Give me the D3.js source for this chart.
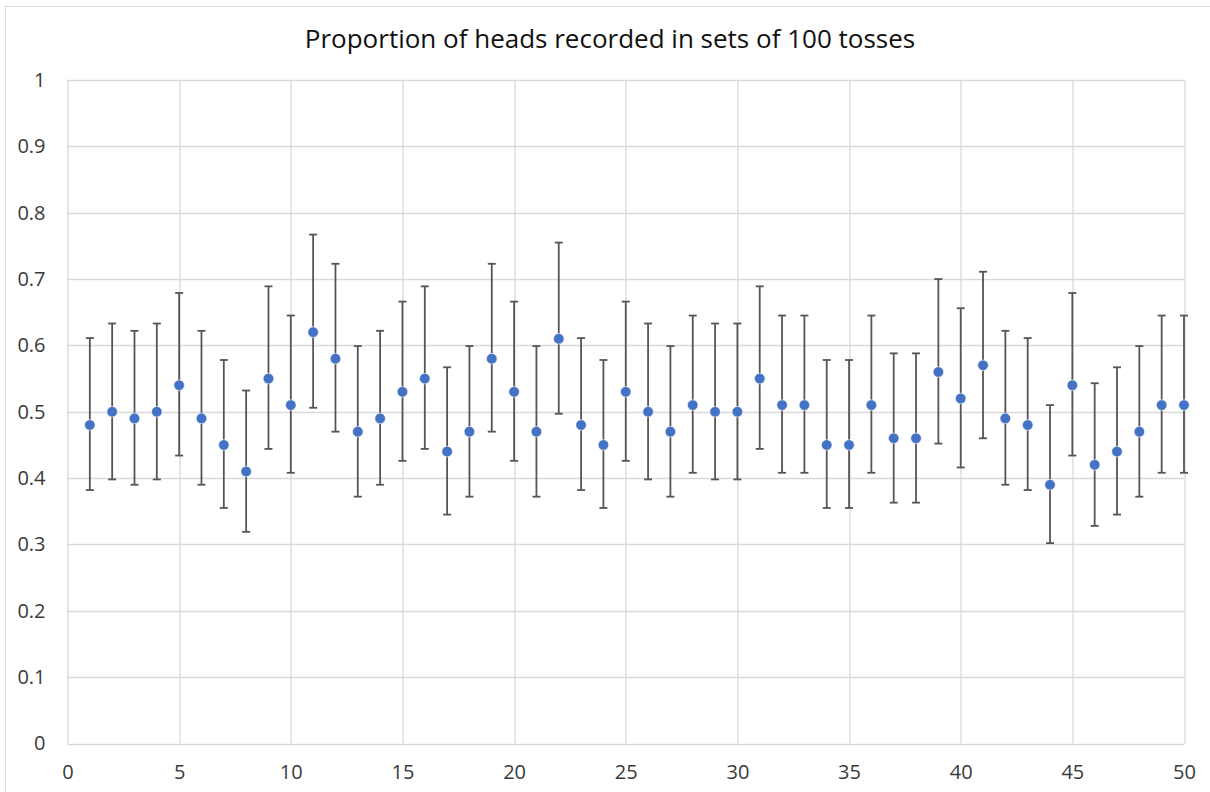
<!DOCTYPE html>
<html>
<head>
<meta charset="utf-8">
<script src="https://cdn.jsdelivr.net/npm/d3@7"></script>
<style>
  body { margin: 0; background: #fff; }
  svg { display: block; }
</style>
</head>
<body>
<div id="chart"></div>
<script>
// set number (1..50) and proportion of heads in each set
const sets = d3.range(1, 51);
const proportion = [
  0.48, 0.50, 0.49, 0.50, 0.54, 0.49, 0.45, 0.41, 0.55, 0.51,
  0.62, 0.58, 0.47, 0.49, 0.53, 0.55, 0.44, 0.47, 0.58, 0.53,
  0.47, 0.61, 0.48, 0.45, 0.53, 0.50, 0.47, 0.51, 0.50, 0.50,
  0.55, 0.51, 0.51, 0.45, 0.45, 0.51, 0.46, 0.46, 0.56, 0.52,
  0.57, 0.49, 0.48, 0.39, 0.54, 0.42, 0.44, 0.47, 0.51, 0.51
];
// upper and lower ends of the error bars
const upper = [
  0.611, 0.633, 0.622, 0.633, 0.679, 0.622, 0.578, 0.532, 0.689, 0.645,
  0.767, 0.723, 0.599, 0.622, 0.666, 0.689, 0.567, 0.599, 0.723, 0.666,
  0.599, 0.755, 0.611, 0.578, 0.666, 0.633, 0.599, 0.645, 0.633, 0.633,
  0.689, 0.645, 0.645, 0.578, 0.578, 0.645, 0.588, 0.588, 0.700, 0.656,
  0.711, 0.622, 0.611, 0.510, 0.679, 0.543, 0.567, 0.599, 0.645, 0.645
];
const lower = [
  0.382, 0.398, 0.390, 0.398, 0.434, 0.390, 0.355, 0.319, 0.444, 0.408,
  0.506, 0.470, 0.372, 0.390, 0.426, 0.444, 0.345, 0.372, 0.470, 0.426,
  0.372, 0.497, 0.382, 0.355, 0.426, 0.398, 0.372, 0.408, 0.398, 0.398,
  0.444, 0.408, 0.408, 0.355, 0.355, 0.408, 0.363, 0.363, 0.452, 0.416,
  0.460, 0.390, 0.382, 0.302, 0.434, 0.328, 0.345, 0.372, 0.408, 0.408
];
const xTicks = [0, 5, 10, 15, 20, 25, 30, 35, 40, 45, 50];
const yTicks = [0, 0.1, 0.2, 0.3, 0.4, 0.5, 0.6, 0.7, 0.8, 0.9, 1];
const title = "Proportion of heads recorded in sets of 100 tosses";

const data = sets.map((s, i) => ({set: s, p: proportion[i], hi: upper[i], lo: lower[i]}));

// dimensions of the page and plot area
const W = 1210, H = 792;
const margin = {top: 80, right: 26, bottom: 48.5, left: 67.5},
    width = W - margin.left - margin.right,
    height = H - margin.top - margin.bottom;

const root = d3.select("#chart")
  .append("svg")
    .attr("width", W)
    .attr("height", H);

// chart border (runs off the right and bottom edges)
root.append("rect")
  .attr("x", 5.5).attr("y", 6.5)
  .attr("width", W + 10).attr("height", H + 10)
  .attr("fill", "#fff")
  .attr("stroke", "#d9d9d9");

root.append("text")
  .attr("x", 610)
  .attr("y", 48)
  .attr("text-anchor", "middle")
  .attr("font-family", "'Open Sans', sans-serif")
  .attr("font-size", 26)
  .attr("fill", "#111")
  .text(title);

const svg = root.append("g")
  .attr("transform", "translate(" + margin.left + "," + margin.top + ")");

const x = d3.scaleLinear().domain([0, 50]).range([0, width]);
const y = d3.scaleLinear().domain([0, 1]).range([height, 0]);

// gridlines
svg.append("g")
  .selectAll("line.hgrid")
  .data(yTicks)
  .enter()
  .append("line")
    .attr("x1", 0).attr("x2", width)
    .attr("y1", d => Math.round(y(d)) + 0.5)
    .attr("y2", d => Math.round(y(d)) + 0.5)
    .attr("stroke", "#d9d9d9")
    .attr("stroke-width", 1.3);

svg.append("g")
  .selectAll("line.vgrid")
  .data(xTicks)
  .enter()
  .append("line")
    .attr("x1", d => Math.round(x(d)) + 0.5)
    .attr("x2", d => Math.round(x(d)) + 0.5)
    .attr("y1", 0).attr("y2", height)
    .attr("stroke", "#d9d9d9")
    .attr("stroke-width", 1.3);

// axes (labels only, lines drawn as grid)
const xAxis = svg.append("g")
  .attr("transform", "translate(0," + height + ")")
  .call(d3.axisBottom(x).tickValues(xTicks).tickSize(0).tickPadding(21).tickFormat(d3.format("d")));
const yAxis = svg.append("g")
  .call(d3.axisLeft(y).tickValues(yTicks).tickSize(0).tickPadding(22).tickFormat(d => d === 0 || d === 1 ? d : d3.format(".1f")(d)));

[xAxis, yAxis].forEach(a => {
  a.select(".domain").remove();
  a.selectAll("text")
    .attr("font-family", "'Open Sans', sans-serif")
    .attr("font-size", 20)
    .attr("fill", "#3a3a3a");
});

// error bars
const bars = svg.append("g")
  .selectAll("g.err")
  .data(data)
  .enter()
  .append("g")
    .attr("stroke", "#555")
    .attr("stroke-width", 1.8);

bars.append("line")
  .attr("x1", d => x(d.set)).attr("x2", d => x(d.set))
  .attr("y1", d => y(d.hi)).attr("y2", d => y(d.lo));
bars.append("line")
  .attr("x1", d => x(d.set) - 4).attr("x2", d => x(d.set) + 4)
  .attr("y1", d => y(d.hi)).attr("y2", d => y(d.hi));
bars.append("line")
  .attr("x1", d => x(d.set) - 4).attr("x2", d => x(d.set) + 4)
  .attr("y1", d => y(d.lo)).attr("y2", d => y(d.lo));

// points
svg.append("g")
  .selectAll("circle")
  .data(data)
  .enter()
  .append("circle")
    .attr("cx", d => x(d.set))
    .attr("cy", d => y(d.p))
    .attr("r", 5.3)
    .attr("fill", "#4472c4")
    .attr("stroke", "#fff")
    .attr("stroke-width", 0.6);
</script>
</body>
</html>
